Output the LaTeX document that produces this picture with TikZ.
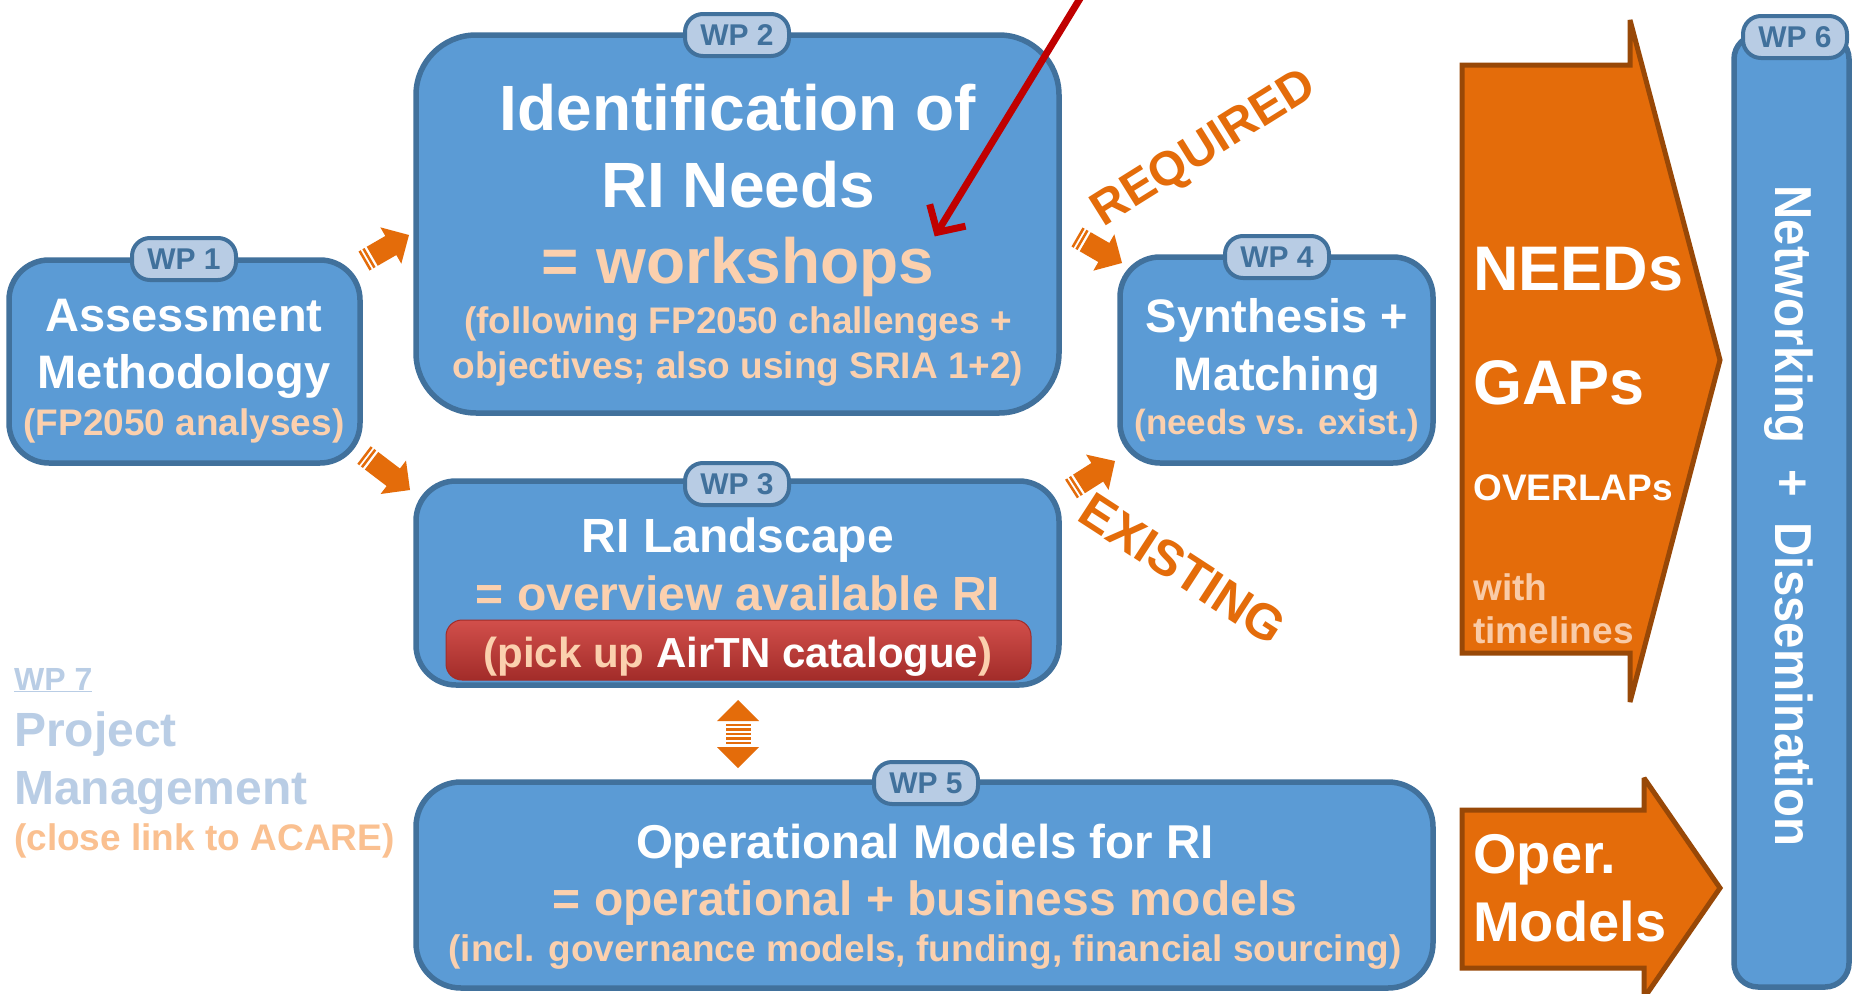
\documentclass[tikz,border=0pt]{standalone}
\usepackage{fontspec}
\setmainfont{Liberation Sans}
\usetikzlibrary{calc,arrows.meta}
\definecolor{boxblue}{HTML}{5B9BD5}
\definecolor{boxedge}{HTML}{41719C}
\definecolor{badgefill}{HTML}{B8CCE4}
\definecolor{peach}{HTML}{FBD0AE}
\definecolor{orng}{HTML}{E46C0A}
\definecolor{arrowedge}{HTML}{984807}
\definecolor{redarrow}{HTML}{C00000}
\definecolor{wpseven}{HTML}{B9CDE5}
\definecolor{acare}{HTML}{FAC090}
\definecolor{redtop}{HTML}{D24F4B}
\definecolor{redbot}{HTML}{A22C29}
\definecolor{lightpeach}{HTML}{F9CBA7}
\newcommand\fs[1]{\fontsize{#1}{#1}\selectfont\bfseries}
% striped block arrow from #1 (tail) to #2 (tip)
\newcommand\stripedarrow[2]{%
 \fill[orng]
  ($(#1)!11pt!90:(#2)$) -- ($($(#1)!2.5pt!(#2)$)!11pt!90:(#2)$) -- ($($(#1)!2.5pt!(#2)$)!11pt!-90:(#2)$) -- ($(#1)!11pt!-90:(#2)$) -- cycle
  ($($(#1)!4.5pt!(#2)$)!11pt!90:(#2)$) -- ($($(#1)!7pt!(#2)$)!11pt!90:(#2)$) -- ($($(#1)!7pt!(#2)$)!11pt!-90:(#2)$) -- ($($(#1)!4.5pt!(#2)$)!11pt!-90:(#2)$) -- cycle
  ($($(#1)!9.5pt!(#2)$)!11pt!90:(#2)$) -- ($($(#2)!21pt!(#1)$)!11pt!-90:(#1)$) -- ($($(#2)!21pt!(#1)$)!21pt!-90:(#1)$) -- (#2) -- ($($(#2)!21pt!(#1)$)!21pt!90:(#1)$) -- ($($(#2)!21pt!(#1)$)!11pt!90:(#1)$) -- ($($(#1)!9.5pt!(#2)$)!11pt!-90:(#2)$) -- cycle;
}
\tikzset{
  box/.style={draw=boxedge, line width=5.5pt, fill=boxblue, inner sep=0pt},
  badge/.style={draw=boxedge, line width=4pt, fill=badgefill, rounded corners=18pt,
    minimum width=104pt, minimum height=42pt, inner sep=0pt, text=boxedge, font=\fs{30}},
  txt/.style={inner sep=0pt, anchor=base, text=white},
  bigarrow/.style={fill=orng, draw=arrowedge, line width=5pt, line join=miter, miter limit=1.5},
}
\begin{document}
\begin{tikzpicture}[x=1pt,y=-1pt]
\fill[white] (0,0) rectangle (1852,993);
\useasboundingbox (0,0) rectangle (1852,993);
\clip (0,0) rectangle (1852,993);

% main boxes
\node[box, rounded corners=60pt, minimum width=643pt, minimum height=378pt] (wp2) at (737.5,224) {};
\node[box, rounded corners=40pt, minimum width=351pt, minimum height=203pt] (wp1) at (184.5,361.5) {};
\node[box, rounded corners=40pt, minimum width=643pt, minimum height=204pt] (wp3) at (737.5,583) {};
\node[box, rounded corners=40pt, minimum width=313pt, minimum height=206pt] (wp4) at (1276.5,360) {};
\node[box, rounded corners=45pt, minimum width=1017pt, minimum height=206pt] (wp5) at (924.5,885) {};
\node[box, rounded corners=24pt, minimum width=115pt, minimum height=952pt] (wp6) at (1791.5,511) {};

% red inner box
\node[top color=redtop, bottom color=redbot, draw=redbot, line width=1pt, rounded corners=16pt,
  minimum width=585pt, minimum height=60pt, inner sep=0pt] (rb) at (738.5,650) {};

% badges
\node[badge] (b1) at (184,259) {WP 1};
\node[badge] (b2) at (737,35) {WP 2};
\node[badge] (b3) at (737,484) {WP 3};
\node[badge] (b4) at (1277,257) {WP 4};
\node[badge] (b5) at (926,783) {WP 5};
\node[badge] (b6) at (1795,37) {WP 6};

% WP1 text
\node[txt, font=\fs{47}] (t1a) at (184,331) {Assessment};
\node[txt, font=\fs{47}] (t1b) at (184,388) {Methodology};
\node[txt, font=\fs{37}, text=peach] (t1c) at (184,435) {(FP2050 analyses)};

% WP2 text
\node[txt, font=\fs{64}] (t2a) at (738,130) {Identification of};
\node[txt, font=\fs{64}] (t2b) at (738,207) {RI Needs};
\node[txt, font=\fs{64}, text=peach] (t2c) at (738,283) {= workshops};
\node[txt, font=\fs{37}, text=peach] (t2d) at (738,333) {(following FP2050 challenges +};
\node[txt, font=\fs{37}, text=peach] (t2e) at (738,378) {objectives; also using SRIA 1+2)};

% WP3 text
\node[txt, font=\fs{48}] (t3a) at (738,552) {RI Landscape};
\node[txt, font=\fs{48}, text=peach] (t3b) at (738,610) {= overview available RI};
\node[txt, font=\fs{42}] (t3c) at (738,667) {{\color{peach}(pick up }AirTN catalogue{\color{peach})}};

% WP4 text
\node[txt, font=\fs{47}] (t4a) at (1277,332) {Synthesis +};
\node[txt, font=\fs{47}] (t4b) at (1277,390) {Matching};
\node[txt, font=\fs{35}, text=peach] (t4c) at (1277,434) {(needs vs. exist.)};

% WP5 text
\node[txt, font=\fs{47.5}] (t5a) at (925,858) {Operational Models for RI};
\node[txt, font=\fs{48}, text=peach] (t5b) at (925,915) {= operational + business models};
\node[txt, font=\fs{37}, text=peach] (t5c) at (925,961) {(incl. governance models, funding, financial sourcing)};

% WP6 text
\node[inner sep=0pt, anchor=base, text=white, rotate=-90, font=\fs{52}] (t6) at (1775,516)
  {\scalebox{0.91}[1]{Networking\hspace{14pt} + \hspace{14pt}Dissemination}};

% WP7 text
\node[inner sep=0pt, anchor=base west, text=wpseven, font=\fs{32}] (t7a) at (14,690) {\underline{WP 7}};
\node[inner sep=0pt, anchor=base west, text=wpseven, font=\fs{48}] (t7b) at (14,746) {Project};
\node[inner sep=0pt, anchor=base west, text=wpseven, font=\fs{48}] (t7c) at (14,804) {Management};
\node[inner sep=0pt, anchor=base west, text=acare, font=\fs{37}] (t7d) at (14,850) {(close link to ACARE)};

% big orange arrows
\draw[bigarrow] (1462,65) -- (1630,65) -- (1630,20) -- (1720,360) -- (1630,702) -- (1630,653) -- (1462,653) -- cycle;
\draw[bigarrow] (1462,810) -- (1644,810) -- (1644,778) -- (1720,888) -- (1644,998) -- (1644,968) -- (1462,968) -- cycle;
\node[inner sep=0pt, anchor=base west, text=white, font=\fs{63}] (na) at (1473,290) {NEEDs};
\node[inner sep=0pt, anchor=base west, text=white, font=\fs{63}] (nb) at (1473,404) {GAPs};
\node[inner sep=0pt, anchor=base west, text=white, font=\fs{37}] (nc) at (1473,500) {OVERLAPs};
\node[inner sep=0pt, anchor=base west, text=lightpeach, font=\fs{37}] (nd) at (1473,600) {with};
\node[inner sep=0pt, anchor=base west, text=lightpeach, font=\fs{37}] (ne) at (1473,643) {timelines};
\node[inner sep=0pt, anchor=base west, text=white, font=\fs{56}] (oa) at (1473,873) {Oper.};
\node[inner sep=0pt, anchor=base west, text=white, font=\fs{56}] (ob) at (1473,941) {Models};

% labels
\node[inner sep=0pt, text=orng, font=\fs{48}, rotate=32] (req) at (1205,150) {REQUIRED};
\node[inner sep=0pt, text=orng, font=\fs{50}, rotate=-33] (exi) at (1183,569) {EXISTING};

% small striped arrows
\coordinate (a1s) at (364,261); \coordinate (a1e) at (409,235);
\coordinate (a2s) at (364,455); \coordinate (a2e) at (410,490);
\coordinate (a3s) at (1077,237); \coordinate (a3e) at (1122,263);
\coordinate (a4s) at (1071,489); \coordinate (a4e) at (1115,461);
\stripedarrow{a1s}{a1e}
\stripedarrow{a2s}{a2e}
\stripedarrow{a3s}{a3e}
\stripedarrow{a4s}{a4e}

% double arrow between WP3 and WP5
\coordinate (dtop) at (738,700);
\coordinate (dbot) at (738,768);
\fill[orng] (dtop) -- ++(21,21) -- ++(-42,0) -- cycle;
\fill[orng] (dbot) -- ++(21,-21) -- ++(-42,0) -- cycle;
\foreach \k in {0,...,4} {
  \fill[orng] ($(dtop)+(-12.5,23.5+4.5*\k)$) rectangle ++(25,2.8);
}

% red pointer arrow
\coordinate (rs) at (1084,-8);
\draw[redarrow, line width=7pt, -{Straight Barb[length=20pt,width=42pt]}] (rs) -- (t2c.north east);
\end{tikzpicture}
\end{document}
